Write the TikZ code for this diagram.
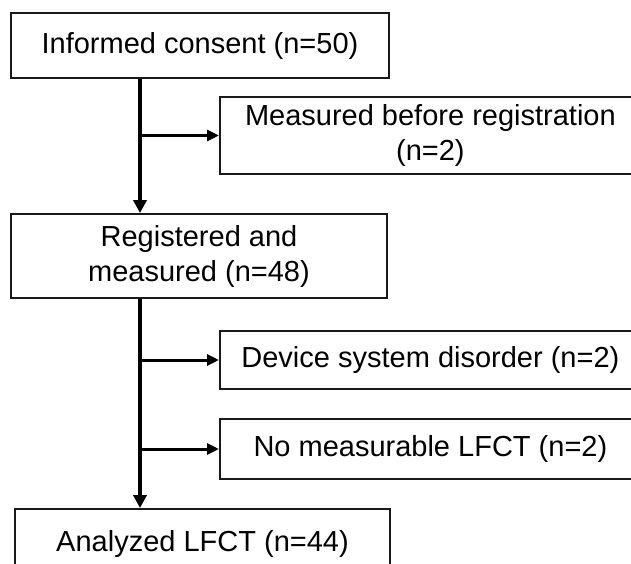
\documentclass[tikz,border=0pt]{standalone}
\usepackage{fontspec}
\setmainfont{Liberation Sans}
\usetikzlibrary{arrows.meta,calc}
\definecolor{boxline}{RGB}{25,25,25}
\tikzset{
  flowbox/.style={draw=boxline,line width=1.8pt,inner sep=0pt,align=center,font=\fontsize{29}{35}\selectfont},
  trunk/.style={line width=3.8pt,-{Triangle[length=13pt,width=13pt]}},
  branch/.style={line width=3pt,-{Triangle[length=12pt,width=11pt]}}
}
\newcommand{\sidebox}[4]{%
  \node[flowbox,anchor=west,minimum width=421,minimum height=#3] (#1) at (219,#2) {#4};%
  \coordinate (#1-in) at (140,#2);%
  \draw[branch] (#1-in) -- (#1);%
}

\begin{document}
\begin{tikzpicture}[x=1pt,y=-1pt]
  \useasboundingbox (0,0) rectangle (631,564);
  \clip (0,0) rectangle (631,564);
  \coordinate (trunkx) at (140,0);
  % main column
  \node[flowbox,minimum width=378,minimum height=65] (consent) at (200,45.5) {Informed consent (n=50)};
  \node[flowbox,minimum width=376,minimum height=84] (registered) at (199,256) {Registered and\\measured (n=48)};
  \node[flowbox,minimum width=375,minimum height=70] (analyzed) at (202.5,544) {Analyzed LFCT (n=44)};
  \draw[trunk] (consent.south -| trunkx) -- (registered.north -| trunkx);
  \draw[trunk] (registered.south -| trunkx) -- (analyzed.north -| trunkx);
  % exclusions
  \sidebox{before}{135.5}{77}{Measured before registration\\(n=2)}
  \sidebox{device}{360}{58}{Device system disorder (n=2)}
  \sidebox{nolfct}{449}{60}{No measurable LFCT (n=2)}
\end{tikzpicture}
\end{document}
